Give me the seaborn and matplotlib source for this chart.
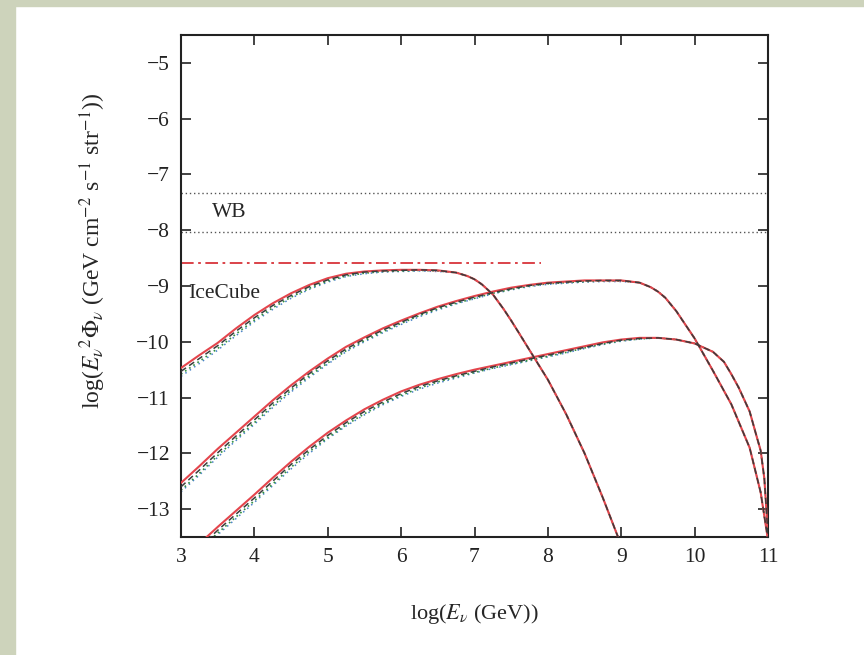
import matplotlib
matplotlib.use("Agg")
import matplotlib.pyplot as plt
import pandas as pd
import seaborn as sns

# ---- data ----
# family 1: peak near log E = 6, cut off before 9
X1 = [3.0, 3.25, 3.5, 3.75, 4.0, 4.25, 4.5, 4.75, 5.0, 5.25, 5.5, 5.75, 6.0,
      6.25, 6.5] + [6.75, 6.9, 7.0, 7.1, 7.25, 7.4, 7.5, 7.6, 7.75, 8.0, 8.25,
                    8.5, 8.75, 9.0]
C1_TAIL = [-8.76, -8.82, -8.88, -8.97, -9.15, -9.42, -9.62, -9.83, -10.15,
           -10.68, -11.30, -12.00, -12.80, -13.65]
C1_RED = [-10.47, -10.24, -10.02, -9.76, -9.52, -9.31, -9.13, -8.98, -8.86, -8.78,
          -8.74, -8.72, -8.71, -8.71, -8.72] + C1_TAIL
C1_DASH = [-10.53, -10.30, -10.07, -9.81, -9.57, -9.35, -9.17, -9.01, -8.89, -8.80,
           -8.75, -8.73, -8.72, -8.71, -8.72] + C1_TAIL
C1_GREEN = [-10.58, -10.35, -10.12, -9.86, -9.61, -9.39, -9.20, -9.04, -8.91, -8.82,
            -8.77, -8.74, -8.73, -8.72, -8.73] + C1_TAIL
C1_BLUE = [-10.62, -10.39, -10.15, -9.89, -9.64, -9.42, -9.22, -9.06, -8.93, -8.83,
           -8.78, -8.75, -8.74, -8.73, -8.74] + C1_TAIL

# family 2: peak near log E = 9
X2 = [3.0, 3.25, 3.5, 3.75, 4.0, 4.25, 4.5, 4.75, 5.0, 5.25, 5.5, 5.75, 6.0,
      6.25, 6.5, 6.75, 7.0, 7.25, 7.5, 7.75, 8.0, 8.25, 8.5, 8.75, 9.0] + \
     [9.25, 9.4, 9.5, 9.6, 9.75, 10.0, 10.25, 10.5, 10.75, 10.9, 11.0]
C2_TAIL = [-8.94, -9.02, -9.10, -9.21, -9.45, -9.94, -10.52, -11.12, -11.90,
           -12.70, -13.55]
C2_RED = [-12.53, -12.23, -11.92, -11.63, -11.34, -11.05, -10.78, -10.53, -10.30,
          -10.09, -9.92, -9.76, -9.62, -9.49, -9.37, -9.27, -9.18, -9.10, -9.03,
          -8.98, -8.94, -8.92, -8.90, -8.90, -8.90] + C2_TAIL
C2_DASH = [-12.60, -12.30, -11.99, -11.69, -11.40, -11.10, -10.83, -10.57, -10.34,
           -10.13, -9.95, -9.79, -9.65, -9.51, -9.39, -9.29, -9.20, -9.12, -9.05,
           -8.99, -8.95, -8.93, -8.91, -8.90, -8.90] + C2_TAIL
C2_GREEN = [-12.66, -12.36, -12.04, -11.74, -11.45, -11.15, -10.87, -10.61, -10.38,
            -10.16, -9.98, -9.82, -9.67, -9.53, -9.41, -9.31, -9.22, -9.13, -9.06,
            -9.00, -8.96, -8.94, -8.92, -8.91, -8.91] + C2_TAIL
C2_BLUE = [-12.69, -12.39, -12.07, -11.77, -11.48, -11.18, -10.90, -10.64, -10.40,
           -10.18, -10.00, -9.84, -9.69, -9.55, -9.43, -9.32, -9.23, -9.14, -9.07,
           -9.01, -8.97, -8.95, -8.93, -8.92, -8.92] + C2_TAIL

# family 3: lowest, peak near log E = 9.3
X3 = [3.25, 3.5, 3.75, 4.0, 4.25, 4.5, 4.75, 5.0, 5.25, 5.5, 5.75, 6.0, 6.25,
      6.5, 6.75, 7.0, 7.25, 7.5, 7.75, 8.0, 8.25, 8.5, 8.75, 9.0, 9.25] + \
     [9.5, 9.75, 10.0, 10.25, 10.4, 10.5, 10.6, 10.75, 10.85, 10.9, 10.95, 11.0]
C3_TAIL = [-9.93, -9.96, -10.03, -10.18, -10.36, -10.58, -10.82, -11.25, -11.72,
           -11.95, -12.45, -13.45]
C3_RED = [-13.62, -13.32, -13.03, -12.74, -12.44, -12.15, -11.88, -11.63, -11.41,
          -11.21, -11.04, -10.89, -10.77, -10.67, -10.58, -10.50, -10.43, -10.36,
          -10.29, -10.22, -10.15, -10.08, -10.01, -9.96, -9.93] + C3_TAIL
C3_DASH = [-13.68, -13.38, -13.09, -12.80, -12.50, -12.20, -11.93, -11.68, -11.45,
           -11.25, -11.08, -10.93, -10.80, -10.70, -10.61, -10.53, -10.45, -10.38,
           -10.31, -10.24, -10.17, -10.10, -10.03, -9.97, -9.94] + C3_TAIL
C3_GREEN = [-13.73, -13.43, -13.14, -12.85, -12.55, -12.25, -11.97, -11.72, -11.49,
            -11.29, -11.11, -10.96, -10.83, -10.72, -10.63, -10.55, -10.47, -10.40,
            -10.33, -10.26, -10.19, -10.11, -10.04, -9.98, -9.95] + C3_TAIL
C3_BLUE = [-13.76, -13.46, -13.17, -12.88, -12.58, -12.28, -12.00, -11.74, -11.51,
           -11.31, -11.13, -10.98, -10.85, -10.74, -10.65, -10.56, -10.48, -10.41,
           -10.34, -10.27, -10.20, -10.12, -10.05, -9.99, -9.95] + C3_TAIL

WB_LEVELS = [-7.34, -8.04]
ICECUBE_LEVEL = -8.59
ICECUBE_E = [3.0, 7.9]

X_TICKS = [3, 4, 5, 6, 7, 8, 9, 10, 11]
Y_TICKS = [-5, -6, -7, -8, -9, -10, -11, -12, -13]

sns.set_style("ticks")
plt.rcParams["font.family"] = ["Liberation Serif", "DejaVu Serif"]
plt.rcParams["mathtext.fontset"] = "stix"

fig = plt.figure(figsize=(8.64, 6.55), dpi=100, facecolor="white")
# grey-green frame strips on the left and top of the slide
fig.patches.append(plt.Rectangle((0, 0), 15 / 864, 1, transform=fig.transFigure,
                                 color="#cdd3bb", zorder=0))
fig.patches.append(plt.Rectangle((0, 1 - 6 / 655), 1, 6 / 655, transform=fig.transFigure,
                                 color="#cdd3bb", zorder=0))
ax = fig.add_axes([181 / 864, 1 - 537 / 655, 587 / 864, 502 / 655])

styles = [
    ("red", dict(color="#e4454c", linestyle="-", linewidth=1.5, zorder=3)),
    ("dash", dict(color="#3c3c3c", linestyle=(0, (4, 2.5)), linewidth=1.1, zorder=4)),
    ("green", dict(color="#2f8f3f", linestyle=(0, (1, 2)), linewidth=1.2, zorder=2)),
    ("blue", dict(color="#4a82c8", linestyle=(0, (1, 2.5)), linewidth=1.1, zorder=1)),
]
families = [
    (X1, {"red": C1_RED, "dash": C1_DASH, "green": C1_GREEN, "blue": C1_BLUE}),
    (X2, {"red": C2_RED, "dash": C2_DASH, "green": C2_GREEN, "blue": C2_BLUE}),
    (X3, {"red": C3_RED, "dash": C3_DASH, "green": C3_GREEN, "blue": C3_BLUE}),
]
for xs, series in families:
    for key, kw in styles:
        df = pd.DataFrame({"x": xs, "y": series[key]})
        sns.lineplot(data=df, x="x", y="y", ax=ax, sort=False, estimator=None, **kw)

for level in WB_LEVELS:
    df = pd.DataFrame({"x": [X_TICKS[0], X_TICKS[-1]], "y": [level, level]})
    sns.lineplot(data=df, x="x", y="y", ax=ax, color="#555555",
                 linestyle=(0, (1, 2)), linewidth=1.0)

df = pd.DataFrame({"x": ICECUBE_E, "y": [ICECUBE_LEVEL, ICECUBE_LEVEL]})
sns.lineplot(data=df, x="x", y="y", ax=ax, color="#d8343a",
             linestyle=(0, (7, 2.5, 1.5, 2.5)), linewidth=1.3)

ax.text(3.42, -7.69, "WB", fontsize=15.5, va="center", ha="left")
ax.text(3.1, -9.13, "IceCube", fontsize=15.5, va="center", ha="left")

ax.set_xlim(3, 11)
ax.set_ylim(-13.5, -4.5)
ax.set_xticks(X_TICKS)
ax.set_yticks(Y_TICKS)
ax.set_xticklabels([str(v) for v in X_TICKS])
ax.set_yticklabels([f"\u2212{abs(v)}" for v in Y_TICKS])
ax.tick_params(direction="in", length=7, width=1.2, top=True, right=True,
               labelsize=15.5, pad=8, colors="#222222")
for spine in ax.spines.values():
    spine.set_linewidth(1.5)
    spine.set_color("#222222")

ax.set_xlabel(r"log($E_\nu$ (GeV))", fontsize=16)
ax.set_ylabel(r"log($E_\nu{}^2\Phi_\nu$ (GeV cm$^{-2}$ s$^{-1}$ str$^{-1}$))", fontsize=17)
ax.xaxis.set_label_coords(0.5, -0.13)
ax.yaxis.set_label_coords(-0.125, 0.57)

fig.savefig("out.png", dpi=100, facecolor=fig.get_facecolor())
